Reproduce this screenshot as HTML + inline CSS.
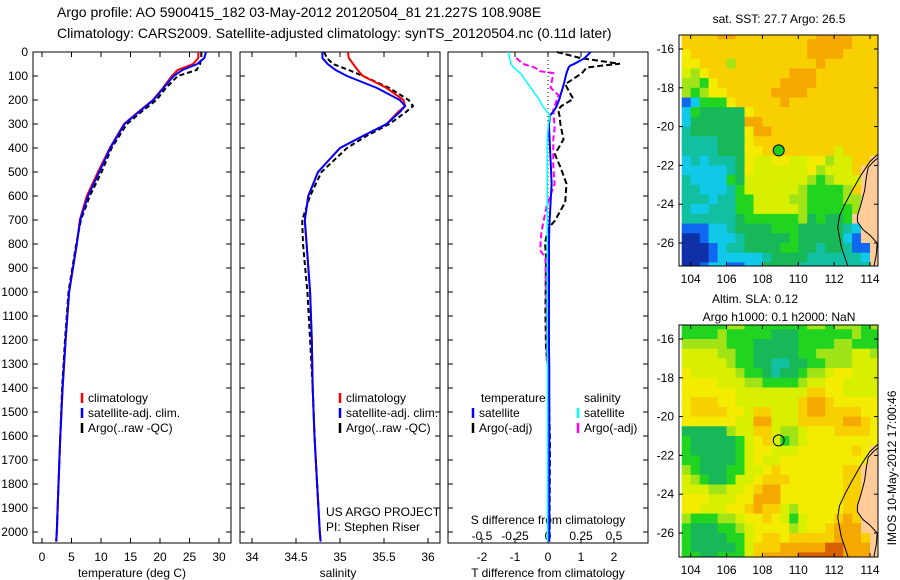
<!DOCTYPE html>
<html><head><meta charset="utf-8"><style>
body{margin:0;background:#fff}
svg{display:block;font-family:"Liberation Sans",sans-serif}
text{fill:#000}
</style></head><body>
<svg id="s" width="900" height="580" viewBox="0 0 900 580">
<text x="57" y="17" font-size="14">Argo profile: AO 5900415_182 03-May-2012 20120504_81 21.227S 108.908E</text>
<text x="57" y="38" font-size="14">Climatology: CARS2009. Satellite-adjusted climatology: synTS_20120504.nc (0.11d later)</text>
</svg>
<script>
// ---------- data ----------
const depthT=[0,25,50,75,100,150,200,250,300,400,500,600,700,800,1000,1200,1400,1600,1800,2000,2040];
const tempClim=[26.5,26.5,25.6,23.0,22.0,20.5,18.8,16.3,13.9,11.5,9.5,7.6,6.4,5.9,4.6,4.0,3.5,3.1,2.8,2.5,2.4];
const tempSat=[27.8,27.5,26.3,23.8,22.3,20.6,18.9,16.4,14.0,11.6,9.7,7.8,6.5,5.9,4.6,4.0,3.5,3.1,2.8,2.5,2.4];
const tempArgo=[27.0,27.0,26.8,26.2,23.0,21.0,19.4,16.8,14.4,11.8,10.1,8.1,6.6,5.8,4.5,3.9,3.4,3.1,2.8,2.5,2.4];
const depthS=[0,25,50,75,100,150,200,225,250,300,350,400,500,600,700,800,1000,1200,1400,1600,1800,2000,2040];
const salClim=[35.09,35.10,35.15,35.20,35.26,35.53,35.72,35.74,35.66,35.53,35.26,35.0,34.75,34.64,34.60,34.62,34.66,34.68,34.69,34.71,34.74,34.77,34.78];
const salSat=[34.80,34.80,34.86,34.95,35.08,35.42,35.68,35.74,35.68,35.53,35.26,35.0,34.75,34.64,34.60,34.62,34.66,34.68,34.69,34.71,34.74,34.77,34.78];
const salArgo=[34.82,34.85,34.92,35.10,35.26,35.56,35.78,35.83,35.75,35.56,35.30,35.08,34.79,34.66,34.57,34.58,34.63,34.66,34.69,34.71,34.74,34.77,34.78];
const depthD=[0,26,49,57,65,88,134,180,195,226,241,265,303,364,426,488,549,626,703,734,795,857,1087,1241,1318,1626,1933,2040];
const tDiffSat=[1.29,1.11,0.80,0.67,0.62,0.56,0.48,0.38,0.35,0.26,0.20,0.06,0.03,0.05,0.07,0.09,0.11,0.08,0.05,0.04,0.03,0.03,0.03,0.03,0.04,0.04,0.04,0.04];
const tDiffArgo=[0.27,1.0,2.18,1.6,1.17,1.03,0.52,0.7,0.77,0.40,0.31,0.35,0.38,0.47,0.21,0.40,0.56,0.52,0.21,0.01,-0.09,-0.06,-0.08,-0.06,0.01,0.06,0.05,0.05];
const sDiffSat=[-0.30,-0.29,-0.28,-0.27,-0.26,-0.21,-0.15,-0.09,-0.07,-0.04,-0.02,0.015,0.003,-0.005,-0.005,-0.005,-0.005,-0.005,-0.005,-0.005,-0.005,-0.005,-0.005,-0.005,-0.003,-0.003,-0.003,-0.003];
const depthSA=[25,49,65,80,88,149,180,226,241,318,364,472,549,641,749,826,857,1087,1287];
const sDiffArgo=[-0.24,-0.19,-0.10,-0.06,0.04,0.02,0.08,0.05,0.04,0.05,0.04,0.04,0.05,-0.01,-0.05,-0.06,-0.02,-0.01,-0.01];
const depthTicks=[0,100,200,300,400,500,600,700,800,900,1000,1100,1200,1300,1400,1500,1600,1700,1800,1900,2000];
const tempTicks=[0,5,10,15,20,25,30];
const salTicks=[34,34.5,35,35.5,36];
const tDiffTicks=[-2,-1,0,1,2];
const sDiffTicks=[-0.5,-0.25,0,0.25,0.5];
const lonTicks=[104,106,108,110,112,114];
const latTicks=[-16,-18,-20,-22,-24,-26];
const sstRows=[
"jjjjkkjjjjjjjjjkkkkjjj","jjjjjjjjjjjjjjkkkkkjjj","ijjjjjjjjjjjjjkkkkjjjj","iijjjgjjjjjjjjjkjjjjjj",
"hgijjjjjjjjjkkkjjjjjjj","ggfijjjjjjjkkkkjjjjjjj","gfgiijjjjjkkkkjjjjjjjj","bcfffijjjjjkjjjjjjjjjj",
"cfeeeeeijjjjjjjjjjjjjj","ceeeeeekkjjjjjjjjjjjjj","deeeeeeikkjjjjjjjjjjjj","ddddeeeijjjjjjjjjjjjjj",
"ddddeeeiijjjjjjjjhjjjj","cdcdddeihhiihhiighhjjm","cccccdeihhhhhhighhhjmm","dccccfehhhhhhhgfghhhmm",
"ddcccdfhhhhhhgffffgjmm","dddcddffhhhhggffffggmm","dccdddffhhhhhgfffffgmm","ddddddeffffffgefeefmmm",
"bbbccdeeeefffeeeeedcmm","aabcccdeeeeefeeeeecbmm","aaabcddeeeeffeedeedbbm","aaabcccccdeeeeddddddcm",
"aabccbbcceeeeddddddddm"];
const slaRows=[
"fffffggfffffffggfgggfg","ffffgfffffeeeffffffgff","gggggfffeeeeeffffggfff","hhhhggffeeeeeffgggghhg",
"hhhhhgffeeddeeffggghhh","ihhhhhgffedeefgghiihhh","iiiihhhggffffghhiihhhh","iiiiiihhhhhhhhjjiihhhh",
"ijjjiihhhhhhhjkkjiiiii","ijjjjiihjjhhhjkkjjjjii","iiiiiihhkkhhhjjjjjkkji","eeeeeghhjjhgghiiijjjji",
"feeeeefhijhfghiiiiiiii","feeeeefhiihhhiiiiiijim","ffeeeefhihhiiiiiiiiiim","gfeeeffhhijiiiiiiijjmm",
"hgfeefhhijjjiiiiiijjmm","hhhgghhijkkiiiiiiijjmm","iiihhhiikkkiiiiiiijjmm","iihhhiijkjjhgiiiiijjmm",
"gfffgghiijihfhiiijkjmm","feeeffghiiiighiijkkkmm","feeeeffhijjijjjjjkkkjm","feeeeefhjjjkkkkkllkkkm",
"ffeefffhjkkkklllllkkkm"];
const landLon=[114.7,114.2,113.9,113.8,113.7,113.5,113.3,113.3,113.6,114.0,114.4,114.35,114.2,114.7];
const landLat=[-21.4,-21.8,-22.1,-22.6,-23.3,-24.0,-24.6,-24.9,-25.3,-25.6,-26.0,-26.6,-27.3,-27.3];
const isoLon=[114.7,114.0,113.5,113.0,112.6,112.3,112.2,112.4,112.8];
const isoLat=[-21.2,-21.8,-22.5,-23.3,-24.0,-24.6,-25.2,-26.2,-27.3];
const argoLon=108.908, argoLat=-21.227;
const palette={a:"#1030a8",b:"#1068f0",c:"#10c8e8",d:"#10c0a0",e:"#18b858",f:"#20d420",g:"#a0e418",h:"#d8f000",i:"#f4ec00",j:"#f8d000",k:"#f4a800",l:"#d86000",m:"#ffcc99"};

// ---------- helpers ----------
const S=document.getElementById('s'),NS="http://www.w3.org/2000/svg";
function mk(tag,at,parent){const e=document.createElementNS(NS,tag);for(const k in at)e.setAttribute(k,at[k]);(parent||S).appendChild(e);return e;}
function txt(x,y,s,size,anchor,parent){const t=mk('text',{x:x,y:y,'font-size':size||12,'text-anchor':anchor||'start'},parent);t.textContent=s;return t;}
const dTop=52,dPx=0.24;
const yD=d=>dTop+d*dPx;
function lin(d0,d1,r0,r1){return v=>r0+(v-d0)*(r1-r0)/(d1-d0);}

function panel(x0,x1,name){
  const g=mk('g',{});
  
  
  mk('rect',{x:x0,y:52,width:x1-x0,height:491,fill:'none',stroke:'#000','stroke-width':1},g);
  return g;
}
function line(g,xs,ys,fx,color,dash,w,name){
  const pts=xs.map((v,i)=>fx(v).toFixed(1)+','+yD(ys[i]).toFixed(1)).join(' ');
  const p=mk('polyline',{points:pts,fill:'none',stroke:color,'stroke-width':w||2,'stroke-dasharray':dash||'none'},g);
  
  
}
function xTicks(g,ticks,fx,y,labels){
  ticks.forEach(t=>{const x=fx(t);mk('line',{x1:x,x2:x,y1:52,y2:57,stroke:'#000'},g);mk('line',{x1:x,x2:x,y1:543,y2:538,stroke:'#000'},g);
    if(labels)txt(x,y,String(t),12,'middle',g);});
}

// ---------- panel 1: temperature ----------
const p1=panel(33,231,'temperature-panel');
const fT=lin(0,30,42,219);
xTicks(p1,tempTicks,fT,561,true);
depthTicks.forEach(d=>{mk('line',{x1:33,x2:38,y1:yD(d),y2:yD(d),stroke:'#000'},p1);mk('line',{x1:231,x2:226,y1:yD(d),y2:yD(d),stroke:'#000'},p1);txt(28,yD(d)+4,String(d),12,'end',p1);});
txt(132,577,'temperature (deg C)',12,'middle',p1);
line(p1,tempArgo,depthT,fT,'#000','5,3',2,'temp-argo-line');
line(p1,tempClim,depthT,fT,'#f00',null,2,'temp-climatology-line');
line(p1,tempSat,depthT,fT,'#00f',null,2,'temp-satellite-line');

function legend(g,x,y,items,name){
  const lg=mk('g',{},g);
  
  
  items.forEach((it,i)=>{mk('line',{x1:x,x2:x,y1:y+i*15-9,y2:y+i*15+1,stroke:it[1],'stroke-width':2.5},lg);txt(x+6,y+i*15,it[0],12,'start',lg);});
}
legend(p1,82,402,[['climatology','#f00'],['satellite-adj. clim.','#00f'],['Argo(..raw -QC)','#000']],'temperature-legend');

// ---------- panel 2: salinity ----------
const p2=panel(240,440,'salinity-panel');
const fS=lin(34,36,252,428);
xTicks(p2,salTicks,fS,561,true);
depthTicks.forEach(d=>{mk('line',{x1:240,x2:245,y1:yD(d),y2:yD(d),stroke:'#000'},p2);mk('line',{x1:440,x2:435,y1:yD(d),y2:yD(d),stroke:'#000'},p2);});
txt(338,577,'salinity',12,'middle',p2);
line(p2,salArgo,depthS,fS,'#000','5,3',2,'sal-argo-line');
line(p2,salClim,depthS,fS,'#f00',null,2,'sal-climatology-line');
line(p2,salSat,depthS,fS,'#00f',null,2,'sal-satellite-line');
legend(p2,340,402,[['climatology','#f00'],['satellite-adj. clim.','#00f'],['Argo(..raw -QC)','#000']],'salinity-legend');
txt(326,516,'US ARGO PROJECT',12,'start',p2);
txt(326,531,'PI: Stephen Riser',12,'start',p2);

// ---------- panel 3: differences ----------
const p3=panel(448,648,'difference-panel');
const fD=lin(0,2,548,614);
const fSD=v=>fD(v*4);
xTicks(p3,tDiffTicks,fD,561,true);
sDiffTicks.forEach(t=>txt(fSD(t),540,String(t),12,'middle',p3));
depthTicks.forEach(d=>{mk('line',{x1:448,x2:453,y1:yD(d),y2:yD(d),stroke:'#000'},p3);mk('line',{x1:648,x2:643,y1:yD(d),y2:yD(d),stroke:'#000'},p3);});
mk('line',{x1:fD(0),x2:fD(0),y1:52,y2:543,stroke:'#000','stroke-dasharray':'1,3'},p3);
txt(548,524,'S difference from climatology',12,'middle',p3);
txt(548,577,'T difference from climatology',12,'middle',p3);
line(p3,tDiffArgo,depthD,fD,'#000','6,3',2,'tdiff-argo-line');
line(p3,sDiffArgo,depthSA,fSD,'#f0f','6,3',2,'sdiff-argo-line');
line(p3,tDiffSat,depthD,fD,'#00f',null,2,'tdiff-satellite-line');
line(p3,sDiffSat,depthD,fSD,'#0ff',null,1.5,'sdiff-satellite-line');
txt(481,402,'temperature',12,'start',p3);
txt(584,402,'salinity',12,'start',p3);
legend(p3,473,417,[['satellite','#00f'],['Argo(-adj)','#000']],'temp-diff-legend');
legend(p3,578,417,[['satellite','#0ff'],['Argo(-adj)','#f0f']],'sal-diff-legend');

// ---------- maps ----------
function map(top,bottom,lat16y,rows,name,filled){
  const L=679,R=878;
  const fx=lin(104,114,690.7,870), fy=lin(-16,-26,lat16y,lat16y+194);
  const g=mk('g',{});
  
  
  const cp='clip-'+name;
  const c=mk('clipPath',{id:cp},g);mk('rect',{x:L,y:top,width:R-L,height:bottom-top},c);
  const inner=mk('g',{'clip-path':'url(#'+cp+')'},g);
  rows.forEach((row,r)=>{const la=-15+(-0.5*r);
    [...row].forEach((ch,ci)=>{const lo=103.5+0.5*ci;
      const x=fx(lo),y=fy(la);
      const cell=mk('rect',{x:x.toFixed(1),y:y.toFixed(1),width:(fx(lo+0.5)-x+0.6).toFixed(1),height:(fy(la-0.5)-y+0.6).toFixed(1),fill:palette[ch]},inner);
      
      
    });});
  const lp=mk('polygon',{points:landLon.map((v,i)=>fx(v).toFixed(1)+','+fy(landLat[i]).toFixed(1)).join(' '),fill:'#ffcc99',stroke:'#000','stroke-width':1},inner);
  
  
  mk('polyline',{points:isoLon.map((v,i)=>fx(v).toFixed(1)+','+fy(isoLat[i]).toFixed(1)).join(' '),fill:'none',stroke:'#000','stroke-width':1},inner);
  const ac=mk('circle',{cx:fx(argoLon),cy:fy(argoLat),r:5.5,fill:filled?'#20d020':'none',stroke:'#000','stroke-width':1},g);
  
  
  mk('rect',{x:L,y:top,width:R-L,height:bottom-top,fill:'none',stroke:'#000'},g);
  lonTicks.forEach(t=>{const x=fx(t);mk('line',{x1:x,x2:x,y1:top,y2:top+4,stroke:'#000'},g);mk('line',{x1:x,x2:x,y1:bottom,y2:bottom-4,stroke:'#000'},g);txt(x,bottom+17,String(t),12,'middle',g);});
  latTicks.forEach(t=>{const y=fy(t);mk('line',{x1:L,x2:L+4,y1:y,y2:y,stroke:'#000'},g);mk('line',{x1:R,x2:R-4,y1:y,y2:y,stroke:'#000'},g);txt(674,y+4,String(t),12,'end',g);});
}
map(35,266,49,sstRows,'sst-map',true);
map(325,557,339,slaRows,'sla-map',false);
txt(779,23,'sat. SST: 27.7 Argo: 26.5',12,'middle');
txt(755,303,'Altim. SLA: 0.12',12,'middle');
txt(779,321,'Argo h1000: 0.1 h2000: NaN',12,'middle');
const rt=txt(0,0,'IMOS 10-May-2012 17:00:46',12,'middle');
rt.setAttribute('transform','translate(896,468) rotate(-90)');
</script>
</body></html>
